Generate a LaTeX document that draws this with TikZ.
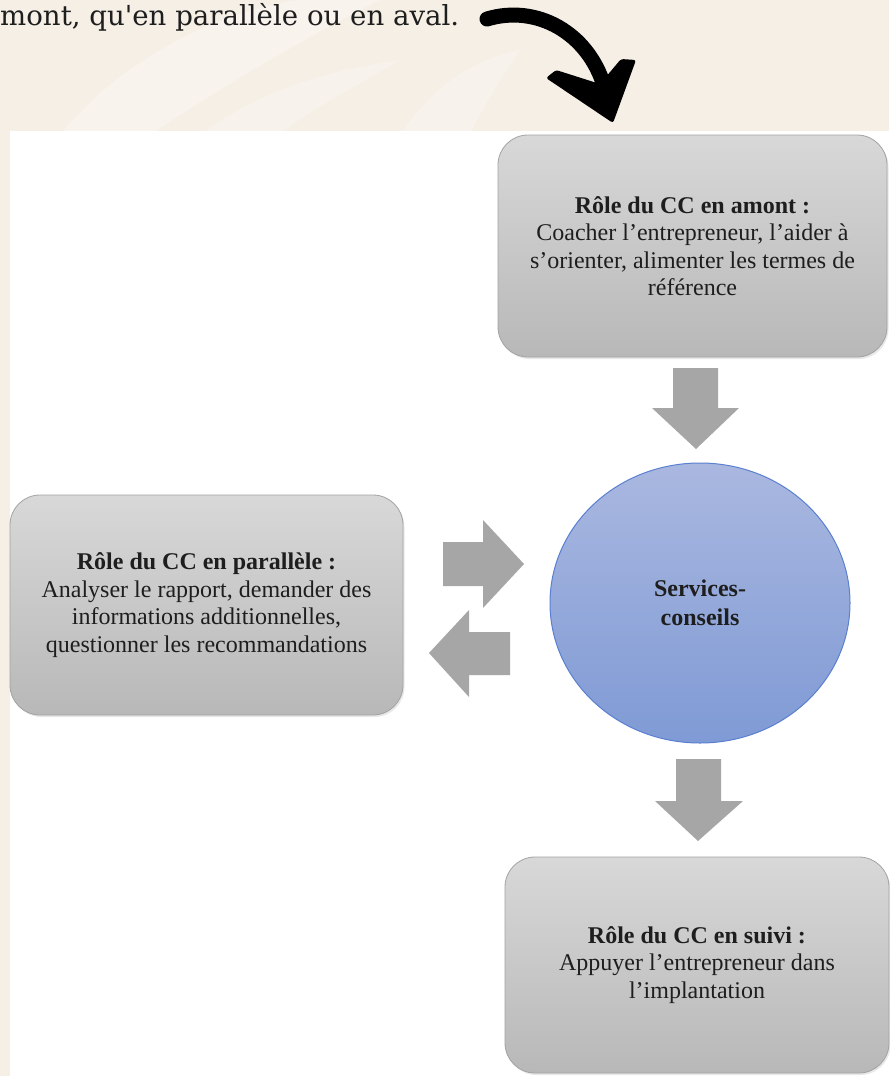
\documentclass[tikz,border=0pt]{standalone}
\usepackage{fontspec}
\setmainfont{Liberation Serif}
\newfontfamily\headfont{DejaVu Serif}
\usetikzlibrary{shapes.geometric,shadows}
\definecolor{cream}{HTML}{F5EFE6}
\definecolor{boxtop}{HTML}{D8D8D8}
\definecolor{boxbot}{HTML}{B8B8B8}
\definecolor{boxline}{HTML}{A3A3A3}
\definecolor{arrowgray}{HTML}{A6A6A6}
\definecolor{circtop}{HTML}{AAB8E0}
\definecolor{circbot}{HTML}{7F9AD5}
\definecolor{circline}{HTML}{5B80D0}
\definecolor{inkc}{HTML}{1E1E1E}
\tikzset{
  rolebox/.style={draw=boxline, line width=0.8pt, rounded corners=30pt,
    top color=boxtop, bottom color=boxbot, align=center, text=inkc,
    font=\fontsize{24}{27.5}\selectfont, inner sep=0pt,
    drop shadow={opacity=0.18, shadow xshift=1.5pt, shadow yshift=-2pt}},
  blockarrow/.style={fill=arrowgray, draw=none},
  centre/.style={ellipse, draw=circline, line width=1pt, top color=circtop,
    bottom color=circbot, minimum width=300pt, minimum height=280pt,
    inner sep=0pt, align=center, text=inkc,
    font=\bfseries\fontsize{24}{29}\selectfont},
}
\begin{document}
\begin{tikzpicture}[x=1pt,y=-1pt]
\useasboundingbox (0,0) rectangle (889,1076);
% background
\fill[cream] (0,0) rectangle (889,1076);
\fill[white, opacity=0.3] (60,135) .. controls (120,60) and (220,10) .. (300,0) -- (380,0) .. controls (300,40) and (200,100) .. (150,135) -- cycle;
\fill[white, opacity=0.25] (400,135) .. controls (430,90) and (470,60) .. (520,50) .. controls (500,80) and (480,110) .. (470,135) -- cycle;
\fill[white, opacity=0.2] (200,135) .. controls (260,90) and (330,70) .. (400,60) .. controls (350,90) and (300,115) .. (280,135) -- cycle;
% white panel
\fill[white] (10,131) rectangle (889,1076);
% intro text and curved arrow
\node[anchor=base west, inner sep=0pt, text=inkc, font=\headfont\fontsize{27.6}{30}\selectfont] (intro) at (0,25) {mont, qu'en parallèle ou en aval.};
\coordinate (tail) at (487,19);
\coordinate (headjoin) at (604,86);
\draw[line width=15pt, line cap=round] (tail) .. controls (537,4) and (588,33) .. (headjoin);
\fill[rounded corners=2.5pt] (546,78) -- (556,70) -- (600,84) -- (621,59) -- (636,60) -- (613,123) -- cycle;
% boxes
\node[rolebox, minimum width=389pt, minimum height=222pt] (amont) at (692.5,246)
  {\textbf{Rôle du CC en amont :}\\Coacher l’entrepreneur, l’aider à\\s’orienter, alimenter les termes de\\référence};
\node[rolebox, minimum width=393pt, minimum height=220pt] (para) at (206.5,605)
  {\textbf{Rôle du CC en parallèle :}\\Analyser le rapport, demander des\\informations additionnelles,\\questionner les recommandations};
\node[rolebox, minimum width=384pt, minimum height=216pt] (suivi) at (697,965)
  {\textbf{Rôle du CC en suivi :}\\Appuyer l’entrepreneur dans\\l’implantation};
\node[centre] (sc) at (700,603) {Services-\\conseils};
% block arrows
\fill[blockarrow] (673,368) -- (718,368) -- (718,408) -- (739,408) -- (696,449) -- (652,408) -- (673,408) -- cycle;
\fill[blockarrow] (676,759) -- (721,759) -- (721,801) -- (743,801) -- (698,841) -- (655,801) -- (676,801) -- cycle;
\fill[blockarrow] (443,542) -- (483,542) -- (483,520) -- (524,564) -- (483,608) -- (483,586) -- (443,586) -- cycle;
\fill[blockarrow] (510,632) -- (469,632) -- (469,610) -- (429,653) -- (469,697) -- (469,675) -- (510,675) -- cycle;
\end{tikzpicture}
\end{document}
